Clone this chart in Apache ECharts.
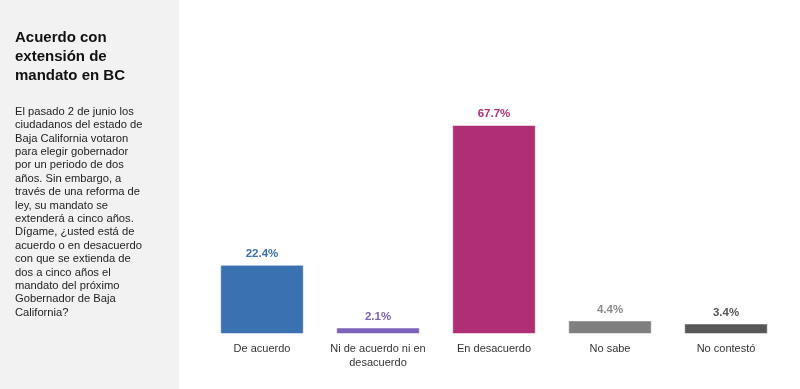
<!DOCTYPE html>
<html>
<head>
<meta charset="utf-8">
<script src="https://cdn.jsdelivr.net/npm/echarts@6/dist/echarts.min.js"></script>
<style>
html,body{margin:0;padding:0;background:#fff;}
#chart{width:800px;height:389px;}
</style>
</head>
<body>
<div id="chart"></div>
<script>
const categories = ['De acuerdo', 'Ni de acuerdo ni en\ndesacuerdo', 'En desacuerdo', 'No sabe', 'No contestó'];
const values = [22.4, 2.1, 67.7, 4.4, 3.4];
const barColors = ['#3a71b1', '#7c62b9', '#b02e74', '#7f7f7f', '#575757'];
const labelColors = ['#3a71b1', '#7c62b9', '#b02e74', '#8a8a8a', '#555555'];
const titleText = 'Acuerdo con\nextensión de\nmandato en BC';
const bodyText = 'El pasado 2 de junio los\nciudadanos del estado de\nBaja California votaron\npara elegir gobernador\npor un periodo de dos\naños. Sin embargo, a\ntravés de una reforma de\nley, su mandato se\nextenderá a cinco años.\nDígame, ¿usted está de\nacuerdo o en desacuerdo\ncon que se extienda de\ndos a cinco años el\nmandato del próximo\nGobernador de Baja\nCalifornia?';

const chart = echarts.init(document.getElementById('chart'));
chart.setOption({
  animation: false,
  backgroundColor: '#ffffff',
  graphic: [
    { type: 'rect', left: 0, top: 0, shape: { width: 179, height: 389 }, style: { fill: '#f2f2f2' }, z: -10 },
    { type: 'text', left: 15, top: 28, style: { text: titleText, fontFamily: 'Liberation Sans, Arial, sans-serif', fontSize: 15, fontWeight: 'bold', lineHeight: 19, fill: '#111111' } },
    { type: 'text', left: 15, top: 105, style: { text: bodyText, fontFamily: 'Liberation Sans, Arial, sans-serif', fontSize: 11.2, lineHeight: 13.4, fill: '#222222' } }
  ],
  grid: { left: 204, right: 16, top: 87, bottom: 55 },
  xAxis: {
    type: 'category',
    data: categories,
    axisLine: { show: false },
    axisTick: { show: false },
    axisLabel: { interval: 0, color: '#333333', fontSize: 11, lineHeight: 14, margin: 8, fontFamily: 'Liberation Sans, Arial, sans-serif' }
  },
  yAxis: {
    type: 'value', min: 0, max: 80,
    show: false,
    splitLine: { show: false }
  },
  series: [{
    type: 'bar',
    barWidth: '72%',
    data: values.map((v, i) => ({
      value: v,
      itemStyle: { color: barColors[i], borderColor: 'rgba(255,255,255,0.5)', borderWidth: 1 },
      label: { color: labelColors[i] }
    })),
    label: {
      show: true, position: 'top', distance: 5,
      formatter: p => p.value.toFixed(1) + '%',
      fontWeight: 'bold', fontSize: 11.5,
      fontFamily: 'Liberation Sans, Arial, sans-serif'
    }
  }]
});
</script>
</body>
</html>
